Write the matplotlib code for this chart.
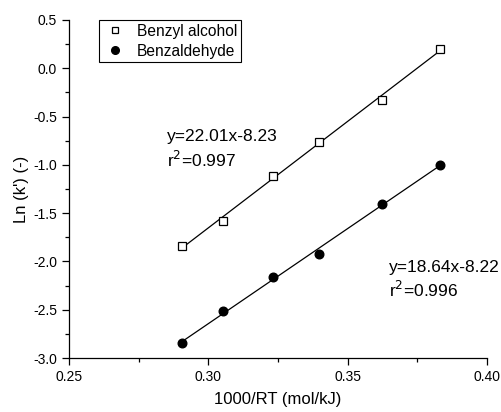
import numpy as np
import matplotlib
matplotlib.use("Agg")
import matplotlib.pyplot as plt
from matplotlib.ticker import MultipleLocator, FormatStrFormatter

plt.rcParams['font.family'] = ['Liberation Sans', 'DejaVu Sans']

x_alcohol = [0.2904, 0.3053, 0.3233, 0.3398, 0.3622, 0.3830]
y_alcohol = [-1.837, -1.585, -1.112, -0.760, -0.325, 0.203]
x_aldehyde = [0.2904, 0.3053, 0.3233, 0.3398, 0.3622, 0.3830]
y_aldehyde = [-2.848, -2.510, -2.158, -1.926, -1.409, -0.998]

label_alcohol = "Benzyl alcohol"
label_aldehyde = "Benzaldehyde"
eq_alcohol = ["y=22.01x-8.23", "r$^2$=0.997"]
eq_aldehyde = ["y=18.64x-8.22", "r$^2$=0.996"]

fig = plt.figure(figsize=(5.01, 4.12), dpi=100)
ax = fig.add_axes([0.1377, 0.131, 0.972 - 0.1377, 0.9515 - 0.131])

for xs, ys in [(x_alcohol, y_alcohol), (x_aldehyde, y_aldehyde)]:
    p = np.polyfit(xs, ys, 1)
    xl = np.array([min(xs), max(xs)])
    ax.plot(xl, np.polyval(p, xl), color='black', lw=0.9, zorder=1)

ax.plot(x_alcohol, y_alcohol, ls='none', marker='s', ms=5.2, mfc='white',
        mec='black', mew=0.9, label=label_alcohol, zorder=3)
ax.plot(x_aldehyde, y_aldehyde, ls='none', marker='o', ms=6.2, mfc='black',
        mec='black', label=label_aldehyde, zorder=3)

ax.set_xlim(0.25, 0.40)
ax.set_ylim(-3.0, 0.5)
ax.xaxis.set_major_locator(MultipleLocator(0.05))
ax.xaxis.set_minor_locator(MultipleLocator(0.025))
ax.yaxis.set_major_locator(MultipleLocator(0.5))
ax.yaxis.set_minor_locator(MultipleLocator(0.25))
ax.xaxis.set_major_formatter(FormatStrFormatter('%.2f'))
ax.yaxis.set_major_formatter(FormatStrFormatter('%.1f'))

for s in ['top', 'right']:
    ax.spines[s].set_visible(False)
for s in ['left', 'bottom']:
    ax.spines[s].set_linewidth(0.9)
ax.tick_params(which='major', direction='out', length=5, width=0.9, labelsize=10)
ax.tick_params(which='minor', direction='out', length=3, width=0.9)

ax.set_xlabel("1000/RT (mol/kJ)", fontsize=12, labelpad=6)
ax.set_ylabel("Ln (k') (-)", fontsize=12, labelpad=3)

ax.text(0.2852, -0.711, eq_alcohol[0], fontsize=12.5, va='center', ha='left')
ax.text(0.2852, -0.95, eq_alcohol[1], fontsize=12.5, va='center', ha='left')
ax.text(0.3648, -2.058, eq_aldehyde[0], fontsize=12.5, va='center', ha='left')
ax.text(0.3648, -2.296, eq_aldehyde[1], fontsize=12.5, va='center', ha='left')

leg = ax.legend(loc='upper left', bbox_to_anchor=(0.072, 1.0), fontsize=11.2,
                frameon=True, fancybox=False, edgecolor='black', framealpha=1,
                borderpad=0.25, handletextpad=0.6, labelspacing=0.3,
                handlelength=1.6, borderaxespad=0.0)
leg.get_frame().set_linewidth(0.8)
hs = leg.legend_handles
hs[0].set_markersize(4.0)
hs[1].set_markersize(5.5)

fig.savefig("out.png", dpi=100)
